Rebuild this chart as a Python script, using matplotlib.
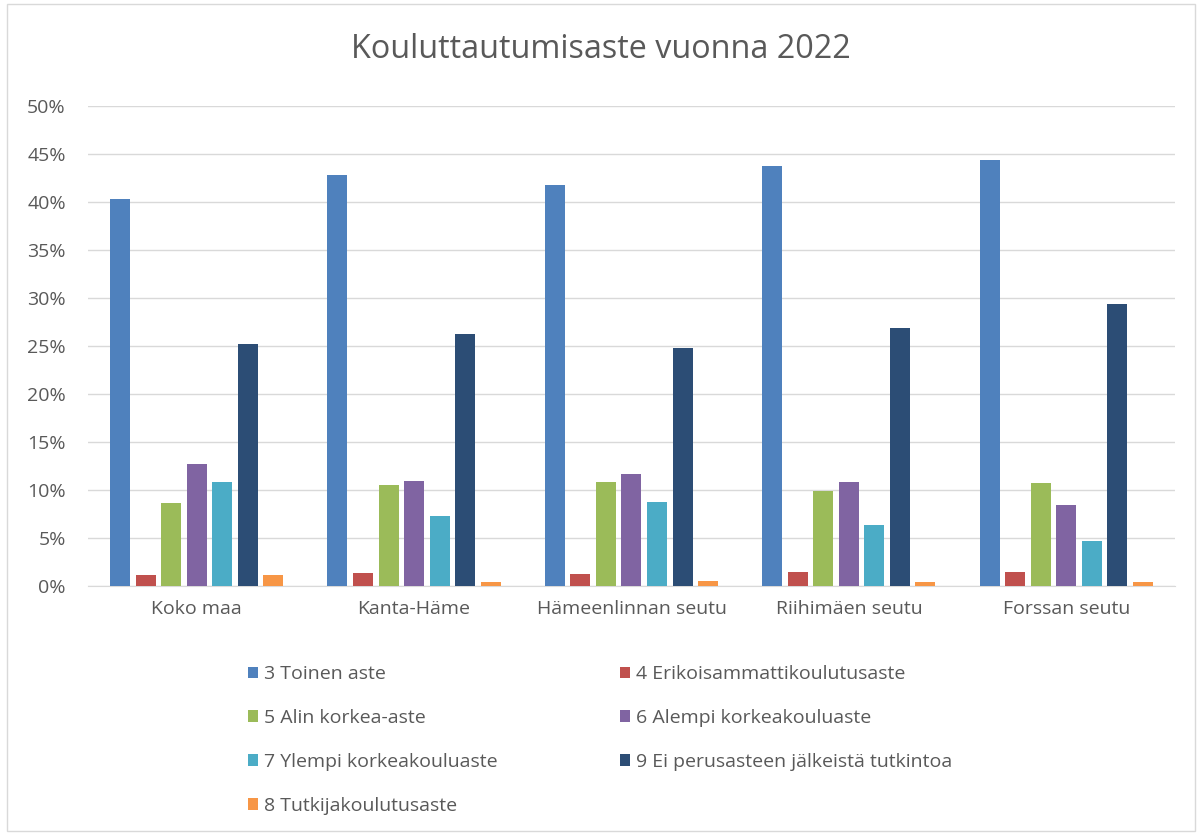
import matplotlib
matplotlib.use("Agg")
import matplotlib.pyplot as plt
from matplotlib.patches import Rectangle, Patch
from matplotlib.ticker import PercentFormatter
import numpy as np

plt.rcParams['font.family'] = ['Open Sans', 'DejaVu Sans']

categories = ["Koko maa", "Kanta-Häme", "Hämeenlinnan seutu", "Riihimäen seutu", "Forssan seutu"]
series_names = ["3 Toinen aste", "4 Erikoisammattikoulutusaste", "5 Alin korkea-aste",
                "6 Alempi korkeakouluaste", "7 Ylempi korkeakouluaste",
                "9 Ei perusasteen jälkeistä tutkintoa", "8 Tutkijakoulutusaste"]
toinen = [40.3, 42.8, 41.8, 43.7, 44.4]
erikois = [1.1, 1.4, 1.3, 1.5, 1.5]
alin = [8.6, 10.5, 10.8, 9.9, 10.7]
alempi = [12.7, 10.9, 11.7, 10.8, 8.4]
ylempi = [10.8, 7.3, 8.7, 6.4, 4.7]
ei_perus = [25.2, 26.2, 24.8, 26.9, 29.4]
tutkija = [1.1, 0.45, 0.55, 0.42, 0.45]
series_values = [toinen, erikois, alin, alempi, ylempi, ei_perus, tutkija]
colors = ["#4F81BD", "#C0504D", "#9BBB59", "#8064A2", "#4BACC6", "#2C4D75", "#F79646"]

fig = plt.figure(figsize=(12.02, 8.35), dpi=100)
fig.add_artist(Rectangle((0.006, 0.005), 0.988, 0.99, transform=fig.transFigure,
                         fill=False, edgecolor="#D9D9D9", linewidth=1.0))

ax = fig.add_axes([0.0732, 0.2982, 0.9043, 0.5749])
x = np.arange(len(categories))
step = 0.1175
width = 0.092
for i, (vals, c) in enumerate(zip(series_values, colors)):
    ax.bar(x + (i - 3) * step, vals, width=width, color=c, label=series_names[i], zorder=3)

ax.set_xlim(-0.5, len(categories) - 0.5)
ax.set_ylim(0, 50)
ax.set_yticks(np.arange(0, 51, 5))
ax.yaxis.set_major_formatter(PercentFormatter(decimals=0))
ax.grid(axis='y', color="#D9D9D9", linewidth=1.0, zorder=0)
for s in ["top", "right", "left"]:
    ax.spines[s].set_visible(False)
ax.spines["bottom"].set_color("#D9D9D9")
ax.tick_params(axis='both', length=0, labelsize=14, colors="#595959")
ax.tick_params(axis='y', pad=16)
ax.tick_params(axis='x', pad=10)
ax.set_xticks(x)
ax.set_xticklabels(categories)

fig.text(0.5, 0.941, "Kouluttautumisaste vuonna 2022", ha="center", va="center",
         fontsize=23.3, color="#595959")

order = [0, 2, 4, 6, 1, 3, 5]
handles = [Patch(facecolor=colors[k], edgecolor="none") for k in order]
labels = [series_names[k] for k in order]
leg = fig.legend(handles, labels, ncol=2, loc="upper left", bbox_to_anchor=(0.198, 0.215),
                 frameon=False, fontsize=14, handlelength=0.52, handleheight=0.52,
                 handletextpad=0.3, labelspacing=1.33, columnspacing=6.3, borderpad=0)
for t in leg.get_texts():
    t.set_color("#595959")

fig.savefig("out.png", dpi=100)
